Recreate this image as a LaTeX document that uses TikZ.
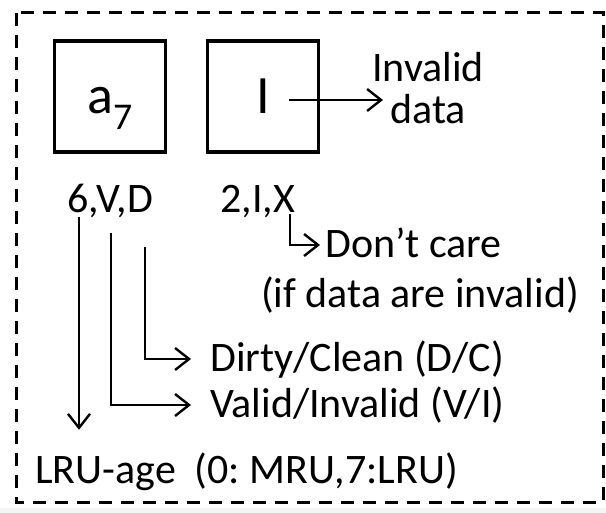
\documentclass[tikz,border=0pt]{standalone}
\usepackage{fontspec}
\setmainfont{Carlito}
\usetikzlibrary{arrows.meta,positioning}
\frenchspacing

\tikzset{
  cell/.style={draw, line width=3.5pt, minimum width=111pt, minimum height=111pt,
    inner sep=0pt, text height=35pt, text depth=0pt, font=\fontsize{54}{60}\selectfont},
  txt/.style={inner ysep=0pt, inner xsep=0pt, text height=26pt, text depth=0pt,
    font=\fontsize{42}{46}\selectfont},
  pointer/.style={line width=2.4pt, -{Straight Barb[length=14pt,width=22pt,line width=2.4pt]}},
}

\begin{document}
\begin{tikzpicture}[x=1pt,y=-1pt]
  \useasboundingbox (0,0) rectangle (606,513);
  \fill[gray!8] (0,508) rectangle (606,513);
  % dashed frame
  \draw[line width=3pt, dash pattern=on 13pt off 9pt] (16,13) rectangle (603,502);

  % the two cache entries
  \node[cell] (a7) at (110,96.5) {a\textsubscript{7}};
  \node[cell] (inv) at (263,96.5) {I};
  \node[inner sep=0pt, align=center, anchor=west, font=\fontsize{42}{42}\selectfont]
    (invtxt) at (372,88) {Invalid\\data};
  \coordinate (istart) at (289,100);
  \draw[pointer, shorten >=-11pt] (istart) -- (istart -| invtxt.west);

  % flag strings
  \node[txt, anchor=base] (flagsa) at (110,213) {6,V,D};
  \node[txt, anchor=base] (flagsi) at (258,213) {2,I,X};

  % explanations
  \node[txt, anchor=base west, inner xsep=5pt] (dcare) at (320,258) {Don’t care};
  \node[txt, anchor=base] (ifinv) at (420,308) {(if data are invalid)};
  \node[txt, anchor=base west, inner xsep=19pt] (dirty) at (191,372) {Dirty/Clean (D/C)};
  \node[txt, anchor=base west, inner xsep=19pt] (valid) at (191,418) {Valid/Invalid (V/I)};
  \node[txt, anchor=base west] (lru) at (35,483) {LRU-age~~(0: MRU,7:LRU)};

  % pointers from the flags
  \coordinate (c6) at (79,217);
  \coordinate (cV) at (111,233);
  \coordinate (cD) at (145,247);
  \coordinate (cX) at (290,214);
  \draw[pointer, shorten >=27pt] (c6) -- (c6 |- lru.north);
  \draw[pointer] (cV) |- (valid.west);
  \draw[pointer] (cD) |- (dirty.west);
  \draw[pointer] (cX) |- (dcare.west);
\end{tikzpicture}
\end{document}
